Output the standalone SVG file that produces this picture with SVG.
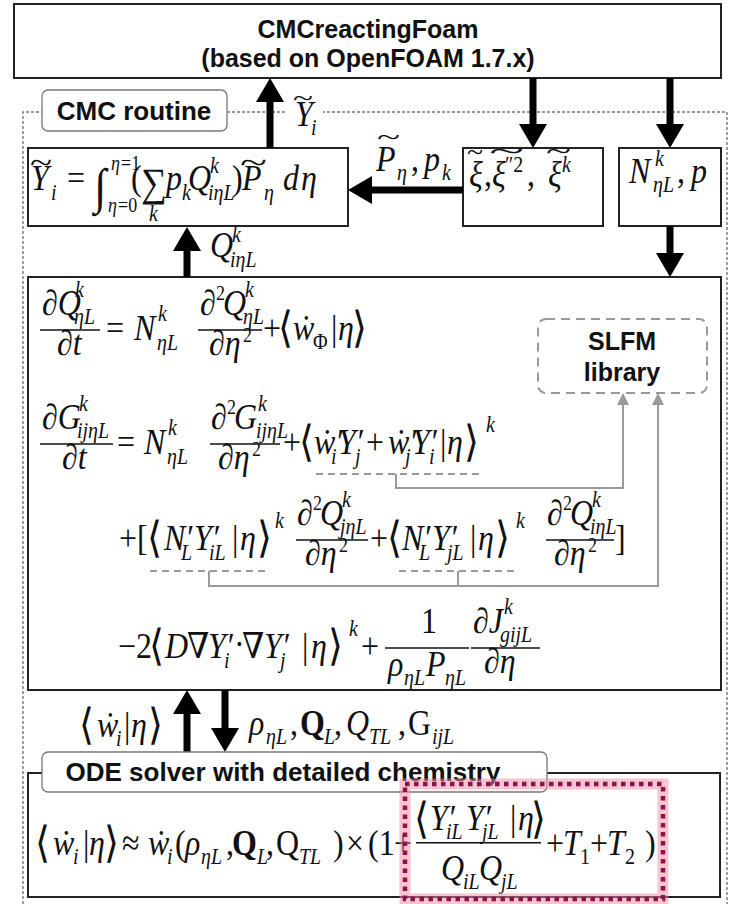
<svg xmlns="http://www.w3.org/2000/svg" width="732" height="904" viewBox="0 0 732 904">
<defs>
<style>
.t{font-family:"Liberation Sans",Arial,sans-serif;font-weight:bold;fill:#111}
.m{font-family:"Liberation Serif","DejaVu Serif",serif;font-style:italic;fill:#111;font-size:32px}
.u{font-style:normal}
.bd{font-style:normal;font-weight:bold}
.s{font-size:20px}
.l{font-size:18px}
.ab{font-family:"DejaVu Sans",sans-serif;font-style:normal;font-size:38px;font-weight:200}
.tl{font-family:"Liberation Serif",serif;font-style:normal;fill:#111}
.box{fill:#fff;stroke:#222;stroke-width:2}
.lab{fill:#fff;stroke:#777;stroke-width:1.3}
.frame{fill:none;stroke:#777;stroke-width:1.4;stroke-dasharray:3,2}
.bar{stroke:#111;stroke-width:1.3}
.arr{stroke:#000;stroke-width:7;fill:none;marker-end:url(#bh)}
.garr{stroke:#999;stroke-width:2;fill:none;marker-end:url(#gh)}
.gline{stroke:#999;stroke-width:2;fill:none}
.gdash{stroke:#999;stroke-width:2;fill:none;stroke-dasharray:7,5}
</style>
<marker id="bh" markerUnits="userSpaceOnUse" markerWidth="26" markerHeight="28" viewBox="0 0 26 28" refX="4" refY="14" orient="auto"><path d="M0,0 L24,14 L0,28 z" fill="#000"/></marker>
<marker id="gh" markerUnits="userSpaceOnUse" markerWidth="14" markerHeight="12" viewBox="0 0 14 12" refX="2" refY="6" orient="auto"><path d="M0,0 L12,6 L0,12 z" fill="#999"/></marker>
</defs>
<rect width="732" height="904" fill="#fff"/>

<g id="frame">
<path class="frame" d="M23,904 V112 H42 M227,112 H727 V904"/>
</g>

<g id="top-box">
<rect class="box" x="14" y="4" width="707" height="74"/>
<text class="t" x="368" y="38" font-size="25" text-anchor="middle">CMCreactingFoam</text>
<text class="t" x="368" y="67" font-size="25" text-anchor="middle">(based on OpenFOAM 1.7.x)</text>
</g>

<g id="cmc-label">
<rect class="lab" x="42" y="90" width="185" height="41" rx="6"/>
<text class="t" x="134" y="120" font-size="26" text-anchor="middle">CMC routine</text>
</g>

<g id="eq-yi">
<rect class="box" x="28" y="148" width="320" height="78"/>
<g transform="matrix(1,0,0,1.12,0,-22.8)">
<text class="m" font-size="33">
<tspan x="31" y="190">Y</tspan><tspan class="s" x="51" y="199">i</tspan>
<tspan class="u" x="67" y="190">=</tspan>
<tspan class="u" x="94" y="202" font-size="44">∫</tspan>
<tspan class="l" x="111" y="172">η</tspan><tspan class="l u" x="121" y="172">=1</tspan>
<tspan class="l" x="108" y="210">η</tspan><tspan class="l u" x="118" y="210">=0</tspan>
<tspan class="u" x="131" y="190">(</tspan>
<tspan class="u" x="141" y="195" font-size="36">∑</tspan>
<tspan class="s" x="149" y="218">k</tspan>
<tspan x="166" y="190">p</tspan><tspan class="s" x="182" y="199">k</tspan>
<tspan x="188" y="190">Q</tspan><tspan class="s" x="210" y="175">k</tspan><tspan class="s" x="208" y="199">iηL</tspan>
<tspan class="u" x="232" y="190">)</tspan>
<tspan x="242" y="190">P</tspan><tspan class="s" x="264" y="199">η</tspan>
<tspan x="283" y="190">d</tspan><tspan x="301" y="190">η</tspan>
</text>
</g>
<text class="tl" font-size="30" x="30" y="173" textLength="22" lengthAdjust="spacingAndGlyphs">~</text>
<text class="tl" font-size="30" x="240" y="173" textLength="27" lengthAdjust="spacingAndGlyphs">~</text>
</g>

<g id="xi-box">
<rect class="box" x="463" y="148" width="140" height="78"/>
<g transform="matrix(1,0,0,1.12,0,-22.2)">
<text class="m" font-size="32">
<tspan x="469" y="186">ξ</tspan><tspan class="u" x="484" y="186">,</tspan>
<tspan x="492" y="186">ξ</tspan><tspan class="s u" x="505" y="173">″2</tspan>
<tspan class="u" x="527" y="186">,</tspan>
<tspan x="548" y="186">ξ</tspan><tspan class="s" x="562" y="173">k</tspan>
</text>
</g>
<text class="tl" font-size="28" x="467" y="161" textLength="16" lengthAdjust="spacingAndGlyphs">~</text>
<text class="tl" font-size="28" x="489" y="160" textLength="35" lengthAdjust="spacingAndGlyphs">~</text>
<text class="tl" font-size="28" x="546" y="160" textLength="25" lengthAdjust="spacingAndGlyphs">~</text>
</g>

<g id="n-box">
<rect class="box" x="619" y="148" width="102" height="78"/>
<g transform="matrix(1,0,0,1.12,0,-21.96)">
<text class="m" font-size="32">
<tspan x="629" y="183">N</tspan><tspan class="s" x="655" y="168">k</tspan><tspan class="s" x="653" y="191">ηL</tspan>
<tspan class="u" x="677" y="183">,</tspan><tspan x="691" y="183">p</tspan>
</text>
</g>
</g>

<g id="cmc-box">
<rect class="box" x="28" y="277" width="693" height="413" stroke-width="2.5"/>
</g>

<g id="slfm">
<rect x="538" y="319" width="169" height="74" rx="8" fill="#fff" stroke="#999" stroke-width="2" stroke-dasharray="9,6"/>
<text class="t" x="622" y="350" font-size="25" text-anchor="middle">SLFM</text>
<text class="t" x="622" y="381" font-size="25" text-anchor="middle">library</text>
</g>

<g id="connectors">
<line class="arr" x1="270" y1="148" x2="270" y2="98"/>
<line class="arr" x1="533" y1="78" x2="533" y2="128"/>
<line class="arr" x1="670" y1="78" x2="670" y2="128"/>
<line class="arr" x1="463" y1="190" x2="368" y2="190"/>
<line class="arr" x1="187" y1="277" x2="187" y2="247"/>
<line class="arr" x1="670" y1="226" x2="670" y2="257"/>
<line class="arr" x1="187" y1="752" x2="187" y2="710"/>
<line class="arr" x1="225" y1="690" x2="225" y2="732"/>
<path class="gdash" d="M316,474 H481"/>
<path class="garr" d="M396,474 V488 H623 V403"/>
<path class="gdash" d="M150,571 H270 M399,571 H516"/>
<path class="gline" d="M458,571 V586"/>
<path class="garr" d="M209,571 V586 H658 V403"/>
</g>

<g id="labels">
<rect x="287" y="94" width="36" height="40" fill="#fff"/>
<g transform="matrix(1,0,0,1.12,0,-15.12)">
<text class="m" font-size="28"><tspan x="295" y="126">Y</tspan><tspan class="s" x="311" y="134">i</tspan></text>
</g>
<text class="tl" font-size="26" x="293" y="106" textLength="20" lengthAdjust="spacingAndGlyphs">~</text>
<g transform="matrix(1,0,0,1.12,0,-19.04)">
<text class="m" font-size="32">
<tspan x="376" y="170">P</tspan><tspan class="s" x="397" y="178">η</tspan><tspan class="u" x="411" y="170">,</tspan>
<tspan x="424" y="170">p</tspan><tspan class="s" x="442" y="178">k</tspan>
</text>
</g>
<text class="tl" font-size="26" x="377" y="145" textLength="23" lengthAdjust="spacingAndGlyphs">~</text>
<g transform="matrix(1,0,0,1.12,0,-30.84)">
<text class="m" font-size="30"><tspan x="210" y="257">Q</tspan><tspan class="s" x="232" y="244">k</tspan><tspan class="s" x="230" y="266">iηL</tspan></text>
</g>
<g transform="matrix(1,0,0,1.12,0,-88.44)">
<text class="m">
<tspan class="ab" x="79" y="739">⟨</tspan>
<tspan x="97" y="737">ẇ</tspan><tspan class="s" x="116" y="745">i</tspan>
<tspan class="u" x="124" y="737">|</tspan><tspan x="131" y="737">η</tspan>
<tspan class="ab" x="148" y="739">⟩</tspan>
</text>
</g>
<g transform="matrix(1,0,0,1.12,0,-88.2)">
<text class="m">
<tspan x="249" y="735">ρ</tspan><tspan class="s" x="266" y="743">ηL</tspan><tspan class="u" x="290" y="735">,</tspan>
<tspan class="bd" x="300" y="735">Q</tspan><tspan class="s" x="324" y="743">L</tspan><tspan class="u" x="334" y="735">,</tspan>
<tspan x="346" y="735">Q</tspan><tspan class="s" x="369" y="743">TL</tspan><tspan class="u" x="398" y="735">,</tspan>
<tspan class="u" x="408" y="735">G</tspan><tspan class="s" x="432" y="743">ijL</tspan>
</text>
</g>
</g>

<g id="eq-rows">
<!-- Row A -->
<g transform="matrix(1,0,0,1.12,0,-40.8)">
<text class="m">
<tspan x="42" y="318">∂Q</tspan><tspan class="s" x="75" y="302">k</tspan><tspan class="s" x="74" y="326">ηL</tspan>
<tspan x="57" y="353">∂t</tspan>
<tspan class="u" x="106" y="340">=</tspan>
<tspan x="134" y="340">N</tspan><tspan class="s" x="158" y="323">k</tspan><tspan class="s" x="157" y="349">ηL</tspan>
<tspan x="200" y="318">∂</tspan><tspan class="l u" x="216" y="304">2</tspan><tspan x="223" y="318">Q</tspan><tspan class="s" x="245" y="302">k</tspan><tspan class="s" x="243" y="326">ηL</tspan>
<tspan x="209" y="353">∂η</tspan><tspan class="l u" x="243" y="342">2</tspan>
<tspan class="u" x="263" y="340">+</tspan>
<tspan class="ab" x="278" y="342">⟨</tspan>
<tspan x="293" y="340">ẇ</tspan><tspan class="s u" x="313" y="348">Φ</tspan>
<tspan class="u" x="331" y="340">|</tspan><tspan x="338" y="340">η</tspan>
<tspan class="ab" x="352" y="342">⟩</tspan>
</text>
<line class="bar" x1="40" y1="331" x2="100" y2="331"/>
<line class="bar" x1="198" y1="331" x2="262" y2="331"/>
</g>

<!-- Row B -->
<g transform="matrix(1,0,0,1.12,0,-54.48)">
<text class="m">
<tspan x="42" y="432">∂G</tspan><tspan class="s" x="79" y="416">k</tspan><tspan class="s" x="77" y="440">ijηL</tspan>
<tspan x="62" y="467">∂t</tspan>
<tspan class="u" x="117" y="454">=</tspan>
<tspan x="144" y="454">N</tspan><tspan class="s" x="168" y="437">k</tspan><tspan class="s" x="167" y="463">ηL</tspan>
<tspan x="211" y="432">∂</tspan><tspan class="l u" x="227" y="418">2</tspan><tspan x="234" y="432">G</tspan><tspan class="s" x="258" y="416">k</tspan><tspan class="s" x="256" y="440">ijηL</tspan>
<tspan x="218" y="467">∂η</tspan><tspan class="l u" x="252" y="456">2</tspan>
<tspan class="u" x="283" y="454">+</tspan>
<tspan class="ab" x="299" y="456">⟨</tspan>
<tspan x="314" y="454">ẇ′</tspan><tspan class="s" x="331" y="463">i</tspan>
<tspan x="338" y="454">Y′</tspan><tspan class="s" x="355" y="463">j</tspan>
<tspan class="u" x="366" y="454">+</tspan>
<tspan x="388" y="454">ẇ′</tspan><tspan class="s" x="405" y="463">j</tspan>
<tspan x="412" y="454">Y′</tspan><tspan class="s" x="429" y="463">i</tspan>
<tspan class="u" x="440" y="454">|</tspan><tspan x="447" y="454">η</tspan>
<tspan class="ab" x="464" y="456">⟩</tspan><tspan class="s" x="486" y="434">k</tspan>
</text>
<line class="bar" x1="40" y1="445" x2="113" y2="445"/>
<line class="bar" x1="210" y1="445" x2="280" y2="445"/>
</g>

<!-- Row C -->
<g transform="matrix(1,0,0,1.12,0,-66)">
<text class="m">
<tspan class="u" x="119" y="550">+[</tspan>
<tspan class="ab" x="147" y="552">⟨</tspan>
<tspan x="164" y="550">N′</tspan><tspan class="s" x="181" y="559">L</tspan>
<tspan x="194" y="550">Y′</tspan><tspan class="s" x="209" y="559">iL</tspan>
<tspan class="u" x="232" y="550">|</tspan><tspan x="240" y="550">η</tspan>
<tspan class="ab" x="257" y="552">⟩</tspan><tspan class="s" x="275" y="530">k</tspan>
<tspan x="297" y="528">∂</tspan><tspan class="l u" x="313" y="514">2</tspan><tspan x="320" y="528">Q</tspan><tspan class="s" x="342" y="512">k</tspan><tspan class="s" x="340" y="536">jηL</tspan>
<tspan x="305" y="563">∂η</tspan><tspan class="l u" x="339" y="552">2</tspan>
<tspan class="u" x="370" y="550">+</tspan>
<tspan class="ab" x="387" y="552">⟨</tspan>
<tspan x="402" y="550">N′</tspan><tspan class="s" x="419" y="559">L</tspan>
<tspan x="432" y="550">Y′</tspan><tspan class="s" x="447" y="559">jL</tspan>
<tspan class="u" x="470" y="550">|</tspan><tspan x="478" y="550">η</tspan>
<tspan class="ab" x="495" y="552">⟩</tspan><tspan class="s" x="516" y="530">k</tspan>
<tspan x="547" y="528">∂</tspan><tspan class="l u" x="563" y="514">2</tspan><tspan x="570" y="528">Q</tspan><tspan class="s" x="592" y="512">k</tspan><tspan class="s" x="590" y="536">iηL</tspan>
<tspan x="554" y="563">∂η</tspan><tspan class="l u" x="588" y="552">2</tspan>
<tspan class="u" x="615" y="550">]</tspan>
</text>
<line class="bar" x1="296" y1="541" x2="368" y2="541"/>
<line class="bar" x1="546" y1="541" x2="614" y2="541"/>
</g>

<!-- Row D -->
<g transform="matrix(1,0,0,1.12,0,-78.96)">
<text class="m">
<tspan class="u" x="118" y="658">−2</tspan>
<tspan class="ab" x="149" y="660">⟨</tspan>
<tspan x="165" y="658">D</tspan><tspan class="u" x="187" y="658">∇</tspan>
<tspan x="208" y="658">Y′</tspan><tspan class="s" x="224" y="667">i</tspan>
<tspan class="u" x="234" y="656">·</tspan>
<tspan class="u" x="242" y="658">∇</tspan>
<tspan x="264" y="658">Y′</tspan><tspan class="s" x="280" y="667">j</tspan>
<tspan class="u" x="302" y="658">|</tspan><tspan x="311" y="658">η</tspan>
<tspan class="ab" x="328" y="660">⟩</tspan><tspan class="s" x="349" y="638">k</tspan>
<tspan class="u" x="361" y="658">+</tspan>
<tspan class="u" x="421" y="636">1</tspan>
<tspan x="388" y="674">ρ</tspan><tspan class="s" x="404" y="682">ηL</tspan>
<tspan x="426" y="674">P</tspan><tspan class="s" x="445" y="682">ηL</tspan>
<tspan x="473" y="636">∂J</tspan><tspan class="s" x="504" y="619">k</tspan><tspan class="s" x="500" y="644">gijL</tspan>
<tspan x="484" y="671">∂η</tspan>
</text>
<line class="bar" x1="385" y1="649" x2="469" y2="649"/>
<line class="bar" x1="471" y1="649" x2="540" y2="649"/>
</g>
</g>

<g id="ode-box">
<rect class="box" x="28" y="773" width="692" height="124"/>
<g transform="matrix(1,0,0,1.12,0,-102.6)">
<text class="m" font-size="33">
<tspan class="ab" x="35" y="857">⟨</tspan>
<tspan x="53" y="855">ẇ</tspan><tspan class="s" x="73" y="863">i</tspan>
<tspan class="u" x="83" y="855">|</tspan><tspan x="89" y="855">η</tspan>
<tspan class="ab" x="104" y="857">⟩</tspan>
<tspan class="u" x="122" y="855">≈</tspan>
<tspan x="148" y="855">ẇ</tspan><tspan class="s" x="167" y="863">i</tspan>
<tspan class="u" x="175" y="855">(</tspan>
<tspan x="185" y="855">ρ</tspan><tspan class="s" x="201" y="863">ηL</tspan><tspan class="u" x="226" y="855">,</tspan>
<tspan class="bd" x="232" y="855">Q</tspan><tspan class="s" x="257" y="863">L</tspan><tspan class="u" x="266" y="855">,</tspan>
<tspan class="u" x="276" y="855">Q</tspan><tspan class="s" x="299" y="863">TL</tspan>
<tspan class="u" x="333" y="855">)</tspan><tspan class="u" x="346" y="855">×</tspan>
<tspan class="u" x="368" y="855">(1</tspan><tspan class="u" x="394" y="855">+</tspan>
<tspan class="ab" x="414" y="835">⟨</tspan>
<tspan x="430" y="833">Y′</tspan><tspan class="s" x="446" y="841">iL</tspan>
<tspan x="466" y="833">Y′</tspan><tspan class="s" x="482" y="841">jL</tspan>
<tspan class="u" x="510" y="833">|</tspan><tspan x="518" y="833">η</tspan>
<tspan class="ab" x="531" y="835">⟩</tspan>
<tspan x="441" y="877">Q</tspan><tspan class="s" x="463" y="885">iL</tspan>
<tspan x="479" y="877">Q</tspan><tspan class="s" x="501" y="885">jL</tspan>
<tspan class="u" x="546" y="855">+</tspan>
<tspan x="563" y="855">T</tspan><tspan class="s u" x="580" y="863">1</tspan>
<tspan class="u" x="590" y="855">+</tspan>
<tspan x="607" y="855">T</tspan><tspan class="s u" x="625" y="863">2</tspan>
<tspan class="u" x="645" y="855">)</tspan>
</text>
<line class="bar" x1="416" y1="844" x2="541" y2="844"/>
</g>
</g>

<g id="ode-label">
<rect class="lab" x="42" y="752" width="505" height="40" rx="6"/>
<text class="t" x="283" y="781" font-size="26" text-anchor="middle">ODE solver with detailed chemistry</text>
</g>

<g id="highlight">
<rect x="405" y="784" width="258" height="115" fill="none" stroke="#f08aa0" stroke-width="11" opacity="0.5"/>
<rect x="405" y="784" width="258" height="115" fill="none" stroke="#8a1450" stroke-width="4.5" stroke-dasharray="4.5,4.5"/>
</g>
</svg>
